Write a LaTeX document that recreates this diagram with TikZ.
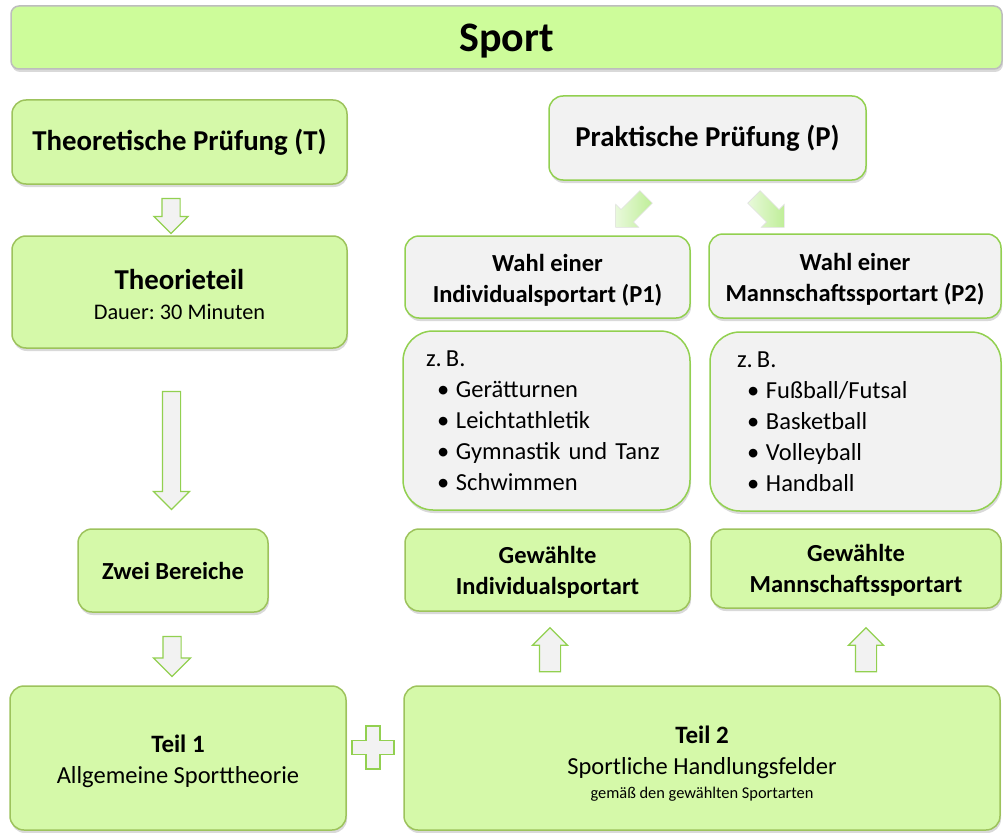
\documentclass[tikz,border=0pt]{standalone}
\usepackage{fontspec}
\setmainfont{Carlito}
\usetikzlibrary{shapes.arrows,shadows}
\frenchspacing

\definecolor{boxgreen}{HTML}{D5F9A9}
\definecolor{titlegreen}{HTML}{CDFC9A}
\definecolor{boxline}{HTML}{9DC35C}
\definecolor{lightline}{HTML}{92D050}
\definecolor{boxgray}{HTML}{F2F2F2}
\definecolor{titleline}{HTML}{BDBDBD}
\definecolor{arrowgreen}{HTML}{BFEE98}

\begin{document}
\begin{tikzpicture}[x=1pt, y=-1pt,
    mainbox/.style = {draw=boxline, fill=boxgreen, line width=1.5pt, rounded corners=14pt,
        align=center, inner sep=0pt, drop shadow={opacity=0.3, shadow xshift=1pt, shadow yshift=-3pt}},
    graybox/.style = {mainbox, draw=lightline, fill=boxgray},
    listbox/.style = {graybox, rounded corners=30pt, align=left, inner xsep=23pt},
    titlebox/.style = {mainbox, draw=titleline, fill=titlegreen, rounded corners=8pt,
        font=\fontsize{42}{46}\selectfont\bfseries, text depth=0pt},
    blockarrow/.style = {single arrow, draw=lightline, fill=boxgray, line width=1.2pt,
        inner xsep=0pt, single arrow tip angle=90},
    softarrow/.style = {single arrow, draw=black!12, line width=0.6pt, left color=arrowgreen!35,
        right color=arrowgreen, inner xsep=0pt, inner ysep=8.5pt, single arrow head extend=7.5pt,
        single arrow tip angle=90, minimum height=43pt, minimum width=32pt},
    big/.style = {font=\fontsize{28.8}{34}\selectfont\bfseries},
    mid/.style = {font=\fontsize{24.5}{31}\selectfont}]

    \useasboundingbox (0,0) rectangle (1003,832);

    % title
    \node[titlebox, minimum width=991pt, minimum height=63pt] (sport) at (506.5,37.5) {Sport};

    % theory side
    \node[mainbox, big, minimum width=335pt, minimum height=84pt] (tpruef) at (179.5,142) {Theoretische Prüfung (T)};
    \node[mainbox, font=\fontsize{22}{30}\selectfont, minimum width=335pt, minimum height=112pt] (theorie) at (179.5,292)
        {{\fontsize{28.8}{34}\selectfont\bfseries\rule{0pt}{24.5pt}Theorieteil}\\{\fontsize{22.3}{30}\selectfont Dauer: 30 Minuten}};
    \node[mainbox, mid, minimum width=190pt, minimum height=83pt] (zwei) at (173,570.5) {\bfseries Zwei Bereiche};
    \node[mainbox, mid, minimum width=336pt, minimum height=144pt] (teil1) at (178,758)
        {{\fontsize{25}{30}\selectfont\bfseries\rule{0pt}{25pt}Teil 1}\\Allgemeine Sporttheorie};

    \node[blockarrow, rotate=-90, minimum height=35pt, minimum width=33pt, inner ysep=8.5pt, single arrow head extend=8pt] (pfeil1) at (171,211.5) {};
    \node[blockarrow, rotate=-90, minimum height=118pt, minimum width=35pt, inner ysep=8.5pt, single arrow head extend=9pt] (pfeil2) at (171.5,446) {};
    \node[blockarrow, rotate=-90, minimum height=40pt, minimum width=36pt, inner ysep=8.5pt, single arrow head extend=9.5pt] (pfeil3) at (172,652) {};

    % plus sign
    \draw[fill=boxgray, draw=lightline, line width=1.2pt]
        (366,726) -- (380,726) -- (380,740.5) -- (394,740.5) -- (394,754.5) -- (380,754.5) -- (380,769)
        -- (366,769) -- (366,754.5) -- (352,754.5) -- (352,740.5) -- (366,740.5) -- cycle;

    % practical side
    \node[graybox, big, minimum width=317pt, minimum height=84pt] (ppruef) at (707.5,138) {Praktische Prüfung (P)};
    \node[softarrow, rotate=225] (links) at (634,209) {};
    \node[softarrow, rotate=-45] (rechts) at (766,209) {};

    \node[graybox, mid, minimum width=285pt, minimum height=82pt] (wahl1) at (547.5,277)
        {\bfseries\rule{0pt}{23.5pt}Wahl einer\\\bfseries Individualsportart (P1)};
    \node[graybox, mid, minimum width=292pt, minimum height=84pt] (wahl2) at (855,276)
        {\bfseries\rule{0pt}{23.5pt}Wahl einer\\\bfseries Mannschaftssportart (P2)};

    \node[listbox, mid, text width=241pt, minimum height=179pt] (liste1) at (546.5,420.5)
        {z.\,B.\\
         \hspace*{11pt}\makebox[19pt][l]{\textbullet}Gerätturnen\\
         \hspace*{11pt}\makebox[19pt][l]{\textbullet}Leichtathletik\\
         \hspace*{11pt}\makebox[19pt][l]{\textbullet}Gymnastik und Tanz\\
         \hspace*{11pt}\makebox[19pt][l]{\textbullet}Schwimmen};
    \node[listbox, mid, inner xsep=27pt, text width=237pt, minimum height=179pt] (liste2) at (855.5,421.5)
        {z.\,B.\\
         \hspace*{10pt}\makebox[19pt][l]{\textbullet}Fußball/Futsal\\
         \hspace*{10pt}\makebox[19pt][l]{\textbullet}Basketball\\
         \hspace*{10pt}\makebox[19pt][l]{\textbullet}Volleyball\\
         \hspace*{10pt}\makebox[19pt][l]{\textbullet}Handball};

    \node[mainbox, mid, minimum width=285pt, minimum height=82pt] (gew1) at (547.5,570)
        {\bfseries\rule{0pt}{21.5pt}Gewählte\\\bfseries Individualsportart};
    \node[mainbox, mid, minimum width=290pt, minimum height=79pt] (gew2) at (856,568.5)
        {\bfseries\rule{0pt}{21.5pt}Gewählte\\\bfseries Mannschaftssportart};

    \node[blockarrow, rotate=90, minimum height=44pt, minimum width=34pt, inner ysep=10pt, single arrow head extend=7pt] (pfeil4) at (550,655) {};
    \node[blockarrow, rotate=90, minimum height=44pt, minimum width=34pt, inner ysep=10pt, single arrow head extend=7pt] (pfeil5) at (866,655) {};

    \node[mainbox, mid, minimum width=596pt, minimum height=144pt] (teil2) at (702,758)
        {{\fontsize{25}{30}\selectfont\bfseries\rule{0pt}{28pt}Teil 2}\\
         Sportliche Handlungsfelder\\[-7pt]
         {\fontsize{16.4}{20}\selectfont gemäß den gewählten Sportarten}};
\end{tikzpicture}
\end{document}
